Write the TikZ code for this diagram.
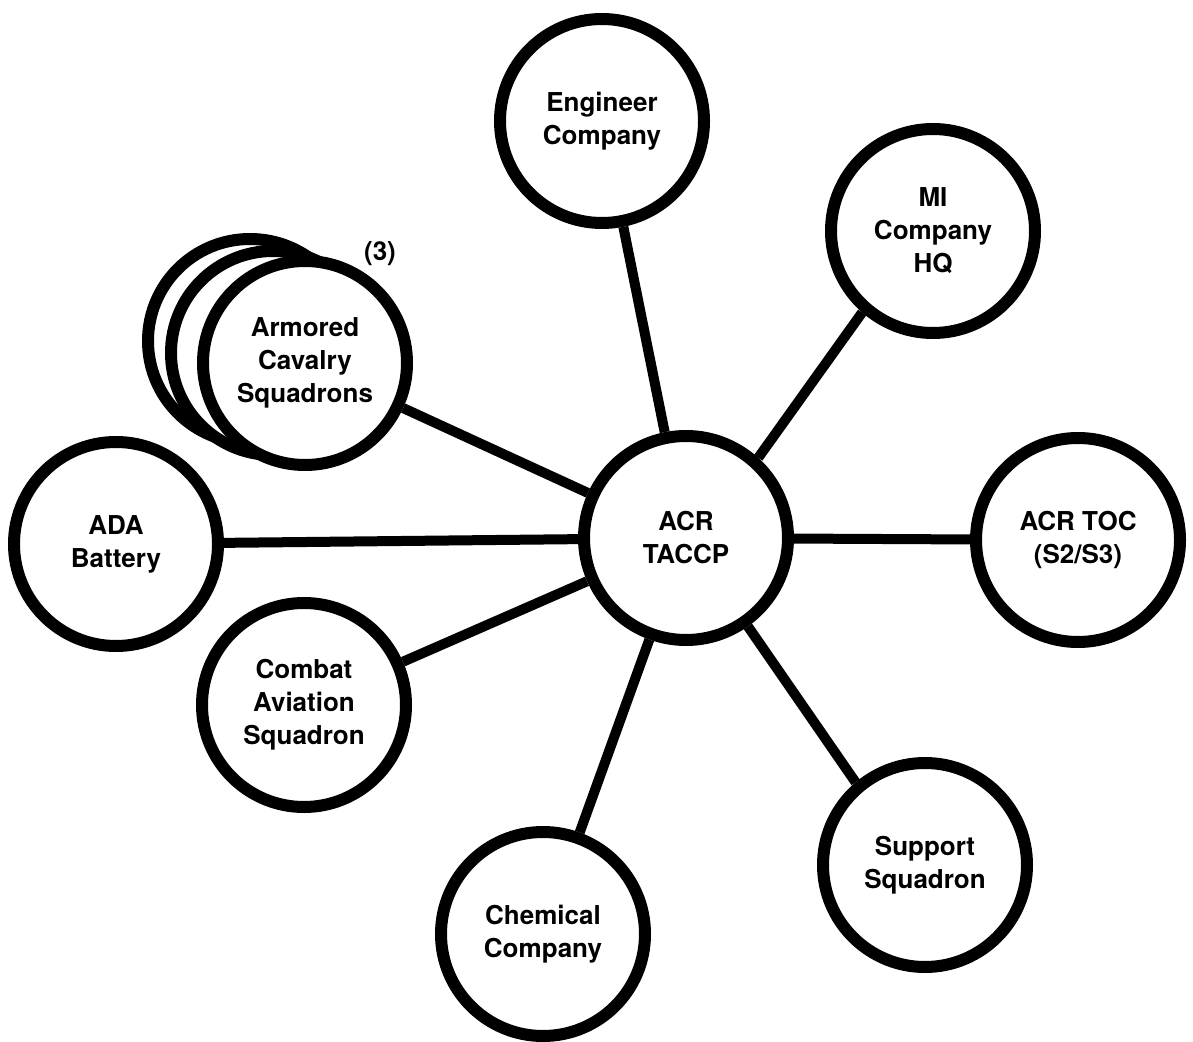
\documentclass[tikz,border=0pt]{standalone}
\usepackage{fontspec}
\setmainfont{TeX Gyre Heros}
\begin{document}
\begin{tikzpicture}[x=0.5pt,y=-0.5pt,
  unit/.style={circle,draw=black,line width=6pt,fill=white,minimum size=102pt,
    inner sep=0pt,align=center,font=\fontsize{13pt}{16.5pt}\selectfont\bfseries},
  link/.style={line width=5pt,draw=black}]
\useasboundingbox (0,0) rectangle (1193,1042);

% stacked squadron circles, back to front
\node[unit] (armC) at (250,341) {};
\node[unit] (armB) at (273,353) {};
\node[unit] (arm)  at (305,363) {Armored\\Cavalry\\Squadrons};
\node[font=\fontsize{13pt}{16.5pt}\selectfont\bfseries] (count) at (380,254) {(3)};

% outer units
\node[unit] (eng)  at (602,121) {Engineer\\Company};
\node[unit] (mi)   at (933,231) {MI\\Company\\HQ};
\node[unit] (ada)  at (116,544) {ADA\\Battery};
\node[unit] (toc)  at (1078,540) {ACR TOC\\(S2/S3)};
\node[unit] (cas)  at (304,705) {Combat\\Aviation\\Squadron};
\node[unit] (chem) at (543,934) {Chemical\\Company};
\node[unit] (sup)  at (925,865) {Support\\Squadron};

% command post in the middle
\node[unit] (tac)  at (686,538) {ACR\\TACCP};

% links to the command post
\draw[link] (tac) -- (eng);
\draw[link] (tac.48) -- (mi.229);
\draw[link] (tac) -- (arm);
\draw[link] (tac) -- (ada);
\draw[link] (tac) -- (toc);
\draw[link] (tac) -- (cas);
\draw[link] (tac) -- (chem);
\draw[link] (tac.-55) -- (sup.130);
\end{tikzpicture}
\end{document}
